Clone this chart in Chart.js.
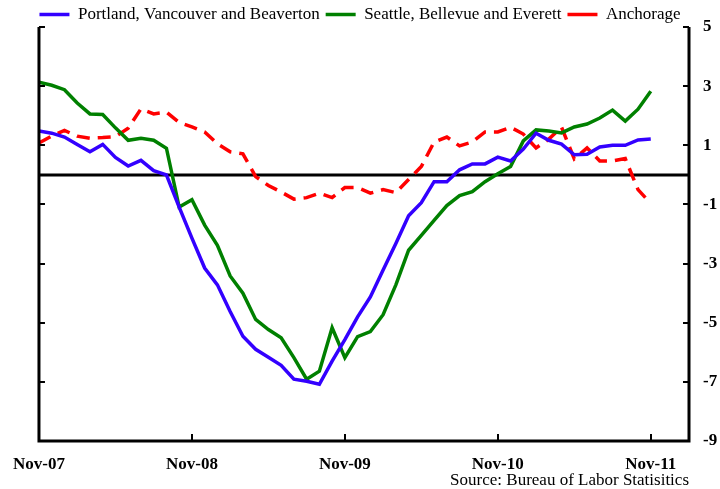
<!DOCTYPE html>
<html>
<head>
<meta charset="utf-8">
<script src="https://cdn.jsdelivr.net/npm/chart.js@4"></script>
<style>
html,body{margin:0;padding:0;background:#fff;}
#wrap{width:720px;height:489px;}
</style>
</head>
<body>
<div id="wrap"><canvas id="unempChart" width="720" height="489"></canvas></div>
<script>
// months since Nov-07, tick labels
var xTickPos = [0, 12, 24, 36, 48];
var xTickLabels = ["Nov-07", "Nov-08", "Nov-09", "Nov-10", "Nov-11"];
var yTicks = [5, 3, 1, -1, -3, -5, -7, -9];
var seriesNames = ["Portland, Vancouver and Beaverton", "Seattle, Bellevue and Everett", "Anchorage"];
var sourceText = "Source: Bureau of Labor Statisitics";

// monthly values, Nov-07 .. Nov-11
var portland = [1.48,1.41,1.28,1.03,0.78,1.03,0.59,0.30,0.49,0.14,0.0,-1.09,-2.14,-3.15,-3.72,-4.62,-5.46,-5.9,-6.17,-6.44,-6.91,-6.98,-7.08,-6.3,-5.57,-4.8,-4.13,-3.22,-2.32,-1.38,-0.94,-0.23,-0.23,0.17,0.37,0.37,0.6,0.47,0.87,1.41,1.17,1.04,0.68,0.7,0.94,1.0,1.0,1.18,1.21];
var seattle = [3.13,3.03,2.88,2.43,2.06,2.04,1.59,1.17,1.24,1.17,0.9,-1.09,-0.84,-1.7,-2.38,-3.42,-4.0,-4.89,-5.23,-5.51,-6.18,-6.91,-6.64,-5.17,-6.18,-5.47,-5.3,-4.73,-3.72,-2.55,-2.05,-1.54,-1.04,-0.7,-0.57,-0.23,0.04,0.28,1.15,1.52,1.48,1.42,1.62,1.72,1.92,2.19,1.82,2.22,2.83];
var anchorage = [1.08,1.31,1.5,1.31,1.24,1.26,1.29,1.58,2.23,2.06,2.12,1.77,1.62,1.45,1.05,0.78,0.71,-0.06,-0.36,-0.58,-0.82,-0.77,-0.62,-0.77,-0.43,-0.43,-0.62,-0.5,-0.6,-0.16,0.28,1.11,1.28,0.98,1.11,1.45,1.45,1.61,1.38,0.91,1.21,1.61,0.54,0.91,0.47,0.47,0.55,-0.5,-0.97];

function toPoints(arr){
	var pts = [];
	for(var i=0;i<arr.length;i++){
		pts.push({x:i, y:arr[i]});
	}
	return pts;
}

//zero line, box axes with inward ticks, source note
var framePlugin = {
	id: "frame",
	beforeDatasetsDraw: function(chart){
		var ctx = chart.ctx, a = chart.chartArea;
		var y0 = Math.round(chart.scales.y.getPixelForValue(0));
		ctx.save();
		ctx.strokeStyle = "#000";
		ctx.lineWidth = 3;
		ctx.beginPath();
		ctx.moveTo(a.left, y0);
		ctx.lineTo(a.right, y0);
		ctx.stroke();
		ctx.restore();
	},
	afterDraw: function(chart){
		var ctx = chart.ctx, a = chart.chartArea;
		var xs = chart.scales.x, ys = chart.scales.y;
		ctx.save();
		ctx.strokeStyle = "#000";
		ctx.lineWidth = 3;
		ctx.beginPath();
		ctx.moveTo(a.left, a.top);
		ctx.lineTo(a.left, a.bottom);
		ctx.lineTo(a.right, a.bottom);
		ctx.lineTo(a.right, a.top);
		ctx.stroke();
		ctx.lineWidth = 2;
		ctx.beginPath();
		yTicks.forEach(function(v){
			var py = Math.round(ys.getPixelForValue(v));
			ctx.moveTo(a.left, py); ctx.lineTo(a.left+6, py);
			ctx.moveTo(a.right, py); ctx.lineTo(a.right-6, py);
		});
		xTickPos.forEach(function(v){
			var px = Math.round(xs.getPixelForValue(v));
			ctx.moveTo(px, a.bottom); ctx.lineTo(px, a.bottom-7);
		});
		ctx.stroke();
		ctx.fillStyle = "#000";
		ctx.font = '17px "Liberation Serif"';
		ctx.textAlign = "right";
		ctx.textBaseline = "alphabetic";
		ctx.fillText(sourceText, a.right, chart.height-4);
		ctx.restore();
	}
};

var ctx = document.getElementById("unempChart").getContext("2d");
var chart = new Chart(ctx, {
	type: "line",
	data: {
		datasets: [
			{
				label: seriesNames[0],
				data: toPoints(portland),
				borderColor: "#3300ff",
				borderWidth: 3.5,
				pointRadius: 0
			},
			{
				label: seriesNames[1],
				data: toPoints(seattle),
				borderColor: "#008000",
				borderWidth: 3.5,
				pointRadius: 0
			},
			{
				label: seriesNames[2],
				data: toPoints(anchorage),
				borderColor: "#ff0000",
				borderWidth: 3.5,
				borderDash: [13, 8],
				pointRadius: 0
			}]
	},
	options: {
		responsive: false,
		animation: false,
		devicePixelRatio: 1,
		layout: {padding: 0},
		plugins: {
			tooltip: {enabled: false},
			legend: {
				position: "top",
				maxHeight: 27,
				labels: {
					usePointStyle: true,
					pointStyle: "line",
					pointStyleWidth: 30,
					padding: 6,
					color: "#000",
					font: {family: "Liberation Serif", size: 17}
				}
			}
		},
		scales: {
			x: {
				type: "linear",
				min: 0,
				max: 51,
				grid: {display: false, drawTicks: false},
				border: {display: false},
				afterBuildTicks: function(s){
					s.ticks = xTickPos.map(function(v){ return {value: v}; });
				},
				afterFit: function(s){ s.height = 48; },
				ticks: {
					autoSkip: false,
					maxRotation: 0,
					padding: 13,
					color: "#000",
					font: {family: "Liberation Serif", size: 17, weight: "bold"},
					callback: function(v){
						var k = xTickPos.indexOf(v);
						return k >= 0 ? xTickLabels[k] : "";
					}
				}
			},
			yLeft: {
				type: "linear",
				position: "left",
				min: -9,
				max: 5,
				grid: {display: false, drawTicks: false},
				border: {display: false},
				ticks: {display: false},
				afterFit: function(s){ s.width = 38; }
			},
			y: {
				type: "linear",
				position: "right",
				min: -9,
				max: 5,
				grid: {display: false, drawTicks: false},
				border: {display: false},
				afterBuildTicks: function(s){
					s.ticks = yTicks.map(function(v){ return {value: v}; });
				},
				afterFit: function(s){ s.width = 31; },
				ticks: {
					padding: 14,
					color: "#000",
					font: {family: "Liberation Serif", size: 17, weight: "bold"}
				}
			}
		}
	},
	plugins: [framePlugin]
});
</script>
</body>
</html>
